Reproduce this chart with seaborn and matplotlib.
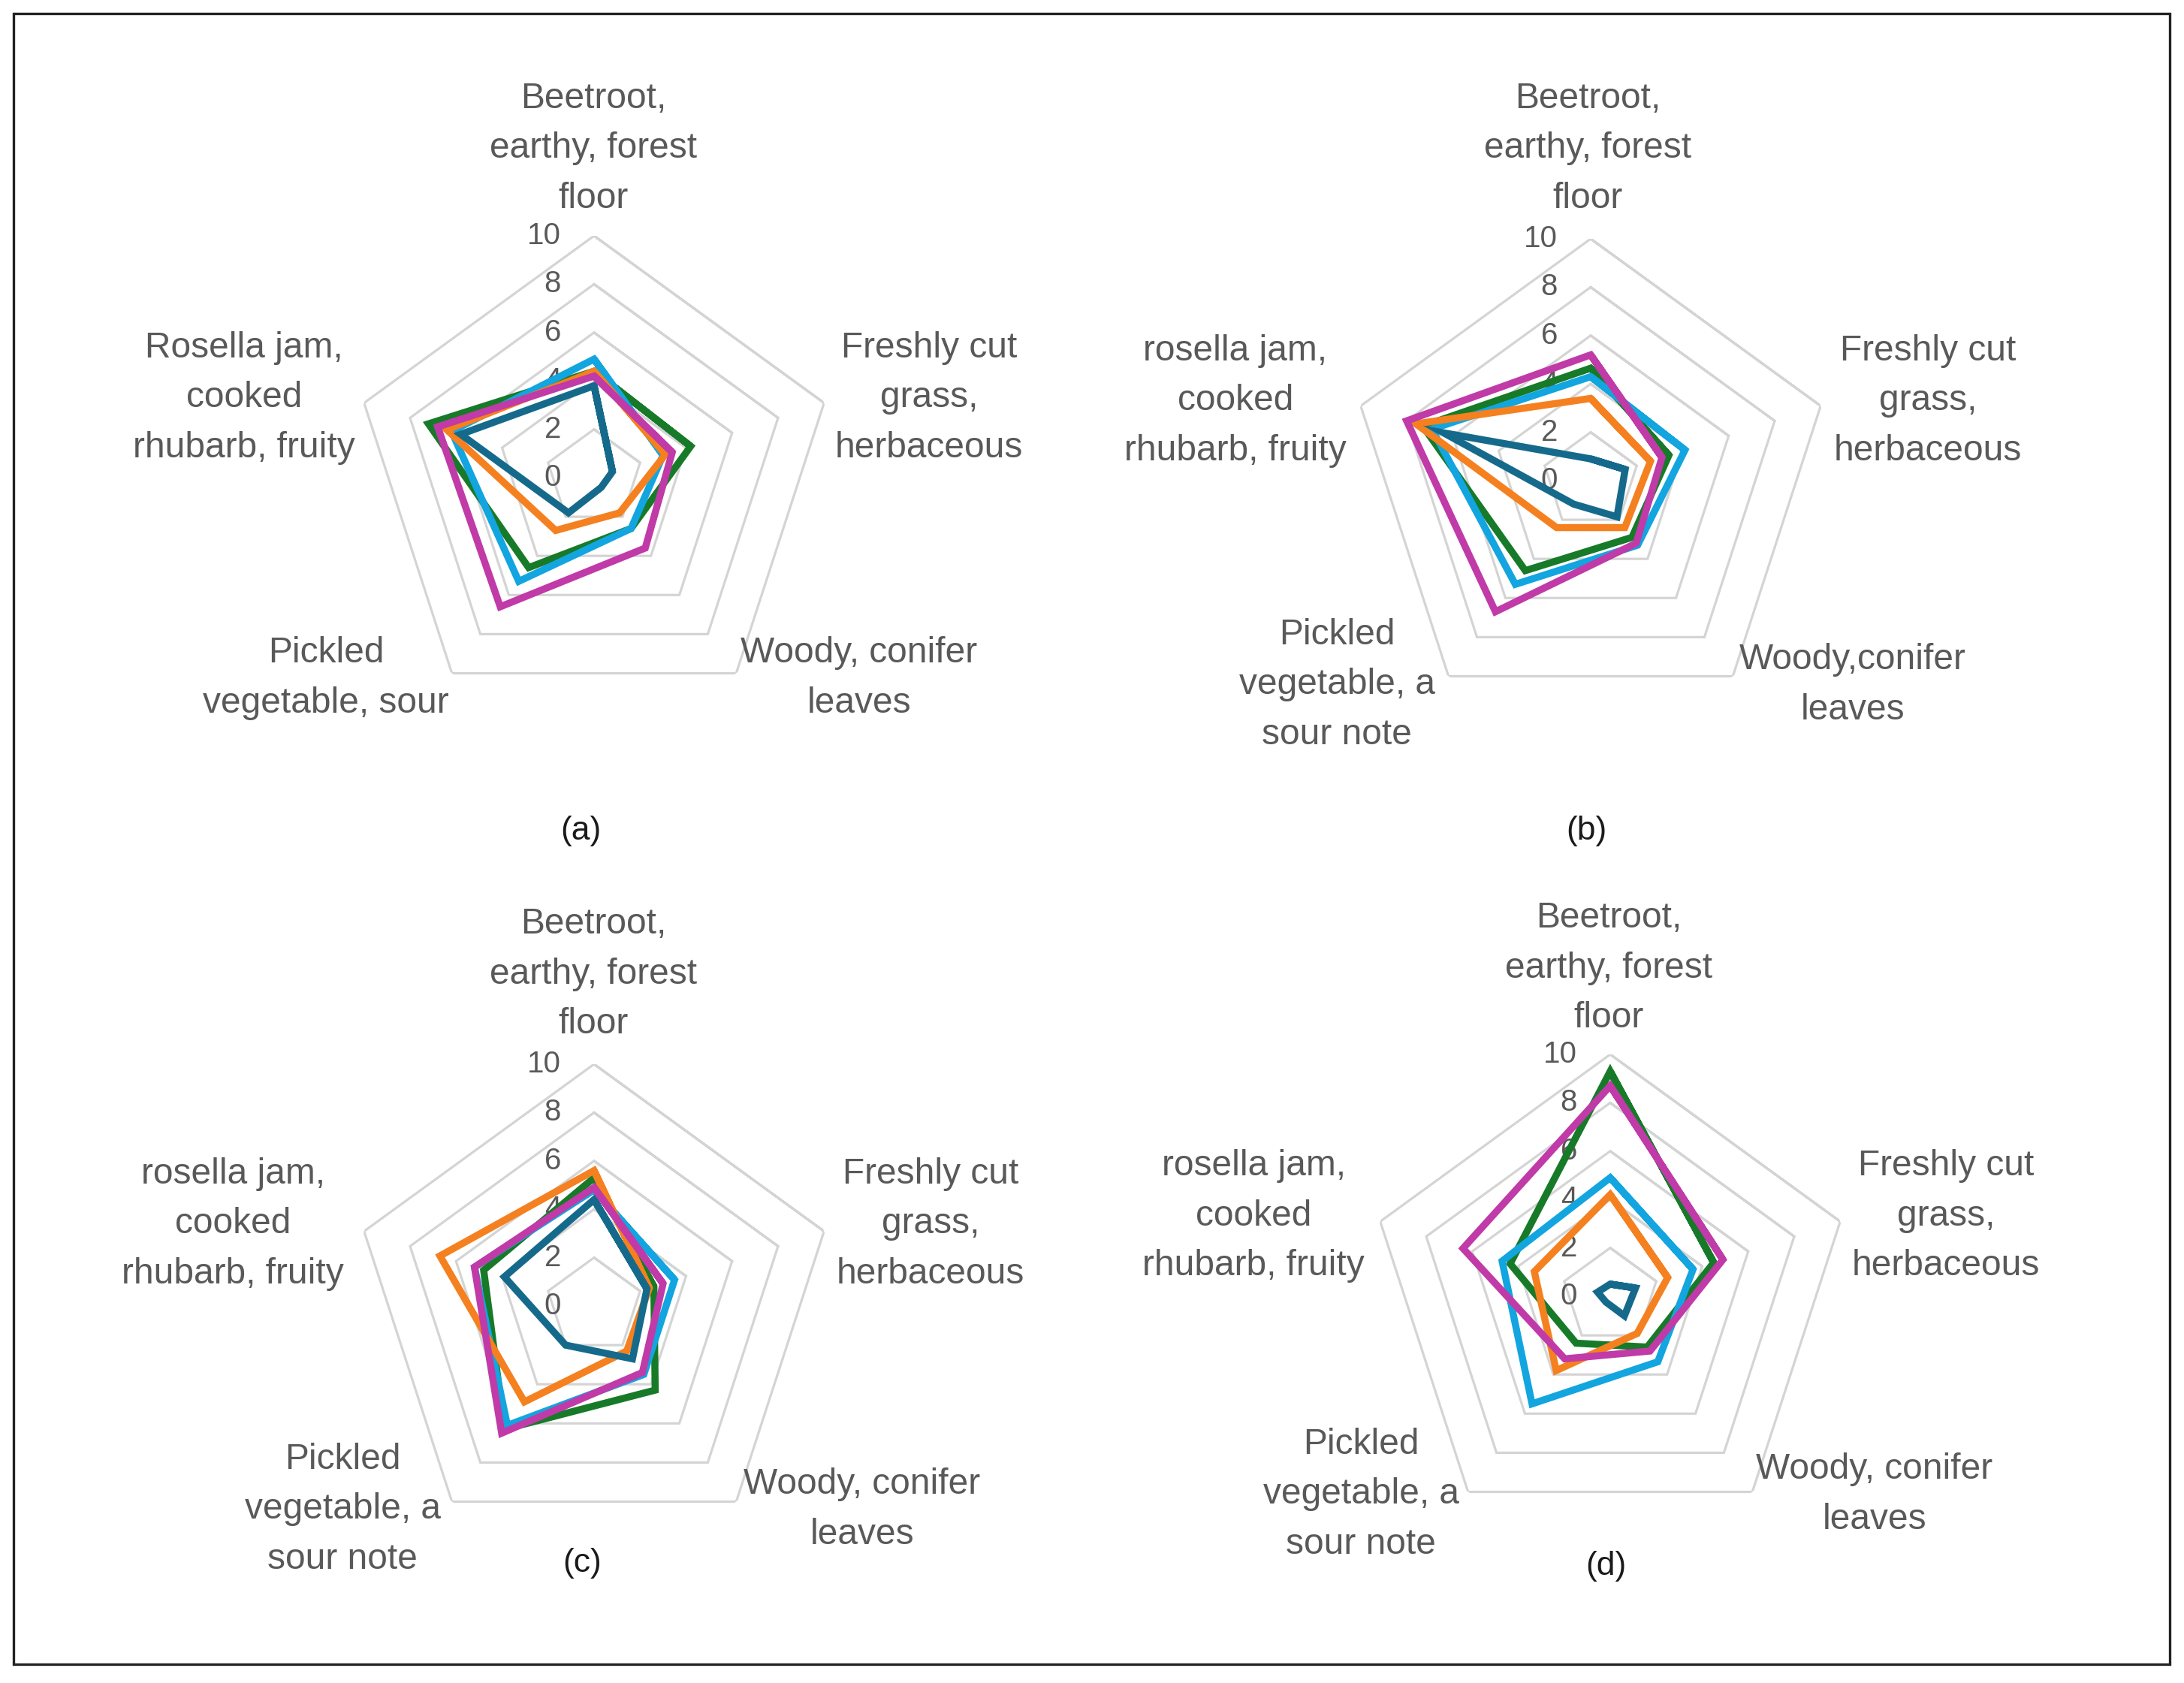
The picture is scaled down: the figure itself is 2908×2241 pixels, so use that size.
import numpy as np
import pandas as pd
import matplotlib
matplotlib.use("Agg")
import matplotlib.pyplot as plt
import seaborn as sns
from matplotlib.patches import Rectangle

# ── Data: sensory attribute scores (0-10) ─────────────
SERIES_COLORS = ["#156A8C", "#F5801F", "#177A28", "#12A5DF", "#C03AA8"]
SERIES_ZORDER = [4, 3, 1, 2, 5]
RING_LEVELS = [2, 4, 6, 8, 10]
TICK_LEVELS = [0, 2, 4, 6, 8, 10]

LABELS_A = ["Beetroot,\nearthy, forest\nfloor", "Freshly cut\ngrass,\nherbaceous",
            "Woody, conifer\nleaves", "Pickled\nvegetable, sour",
            "Rosella jam,\ncooked\nrhubarb, fruity"]
LABELS_B = ["Beetroot,\nearthy, forest\nfloor", "Freshly cut\ngrass,\nherbaceous",
            "Woody,conifer\nleaves", "Pickled\nvegetable, a\nsour note",
            "rosella jam,\ncooked\nrhubarb, fruity"]
LABELS_C = ["Beetroot,\nearthy, forest\nfloor", "Freshly cut\ngrass,\nherbaceous",
            "Woody, conifer\nleaves", "Pickled\nvegetable, a\nsour note",
            "rosella jam,\ncooked\nrhubarb, fruity"]
LABELS_D = LABELS_C

# order of axes: beetroot, grass, woody, pickled, rosella
VALUES_A = [[3.8, 0.8, 0.5, 1.8, 5.8],
            [4.4, 3.1, 1.8, 2.7, 6.4],
            [4.4, 4.2, 2.6, 4.6, 7.2],
            [4.9, 3.0, 2.6, 5.3, 6.2],
            [4.2, 3.4, 3.6, 6.6, 6.8]]
VALUES_B = [[0.9, 1.5, 1.85, 1.2, 6.4],
            [3.4, 2.6, 2.4, 2.4, 7.6],
            [4.65, 3.4, 2.9, 4.6, 7.3],
            [4.3, 4.1, 3.3, 5.3, 6.9],
            [5.2, 3.1, 3.2, 6.7, 8.0]]
VALUES_C = [[4.4, 2.3, 2.7, 2.0, 3.9],
            [5.6, 2.4, 2.3, 4.9, 6.7],
            [5.3, 2.6, 4.3, 6.3, 4.8],
            [4.8, 3.5, 3.5, 6.1, 5.2],
            [4.9, 3.0, 3.4, 6.5, 5.2]]
VALUES_D = [[0.5, 1.1, 1.0, 0.3, 0.55],
            [4.2, 2.5, 1.9, 3.8, 3.3],
            [9.3, 4.5, 2.6, 2.4, 4.35],
            [4.9, 3.6, 3.35, 5.5, 4.7],
            [8.7, 4.9, 2.8, 3.2, 6.4]]

# ── Layout (pixels on a 2908 x 2241 canvas) ───────────
W, H = 2908, 2241
RADIUS = 322
GRAY = "#595959"

sns.set_theme(style="white")
plt.rcParams["font.family"] = ["Liberation Sans", "DejaVu Sans"]


def fx(x):
    return x / W


def fy(y):
    return 1 - y / H


def draw_radar(fig, center, labels, label_pos, values, letter, letter_pos):
    cx, cy = center
    ax = fig.add_axes([fx(cx - RADIUS), fy(cy + RADIUS), 2 * RADIUS / W, 2 * RADIUS / H],
                      projection="polar")
    ax.set_theta_zero_location("N")
    ax.set_theta_direction(-1)
    ax.patch.set_visible(False)

    theta = np.deg2rad(np.arange(0, 360, 72))
    theta_closed = np.append(theta, theta[:2] + 2 * np.pi)

    # pentagon gridlines
    for lvl in RING_LEVELS:
        ax.plot(theta_closed, [lvl] * len(theta_closed), color="#d4d4d4",
                lw=2.3, zorder=0.5, solid_joinstyle="miter")

    for vals, color, z in zip(values, SERIES_COLORS, SERIES_ZORDER):
        df = pd.DataFrame({"angle": theta_closed, "score": vals + vals[:2]})
        sns.lineplot(data=df, x="angle", y="score", sort=False, estimator=None,
                     color=color, linewidth=6.8, ax=ax, zorder=z,
                     solid_joinstyle="miter", solid_capstyle="butt")

    ax.set_ylim(0, 10)
    ax.set_xticks([])
    ax.set_yticks([])
    ax.grid(False)
    ax.spines["polar"].set_visible(False)
    ax.set_xlabel("")
    ax.set_ylabel("")

    for lvl in TICK_LEVELS:
        ax.annotate(str(lvl), xy=(0, lvl), xytext=(-44, 0), textcoords="offset pixels",
                    ha="right", va="center", fontsize=29, color=GRAY, zorder=0.8)

    for text, (x, y) in zip(labels, label_pos):
        fig.text(fx(x), fy(y), text, ha="center", va="center", multialignment="center",
                 linespacing=1.62, fontsize=34.5, color=GRAY)

    fig.text(fx(letter_pos[0]), fy(letter_pos[1]), letter, ha="center", va="center",
             fontsize=32, color="#1a1a1a")


fig = plt.figure(figsize=(W / 100, H / 100), dpi=100)
fig.patch.set_facecolor("white")

draw_radar(fig, (791, 636), LABELS_A,
           [(790, 198), (1237, 530), (1144, 903), (434, 903), (325, 530)],
           VALUES_A, "(a)", (773, 1107))
draw_radar(fig, (2118, 640), LABELS_B,
           [(2114, 198), (2567, 534), (2467, 912), (1780, 912), (1645, 534)],
           VALUES_B, "(b)", (2112, 1107))
draw_radar(fig, (791, 1739), LABELS_C,
           [(790, 1297), (1239, 1630), (1148, 2010), (456, 2010), (310, 1630)],
           VALUES_C, "(c)", (775, 2081))
draw_radar(fig, (2144, 1726), LABELS_D,
           [(2142, 1289), (2591, 1619), (2496, 1990), (1812, 1990), (1669, 1619)],
           VALUES_D, "(d)", (2138, 2085))

# outer frame
fig.patches.append(Rectangle((fx(18), fy(2216)), (2889 - 18) / W, (2216 - 18) / H,
                             transform=fig.transFigure, fill=False,
                             edgecolor="#222222", lw=2.4))

fig.savefig("out.png", dpi=100)
